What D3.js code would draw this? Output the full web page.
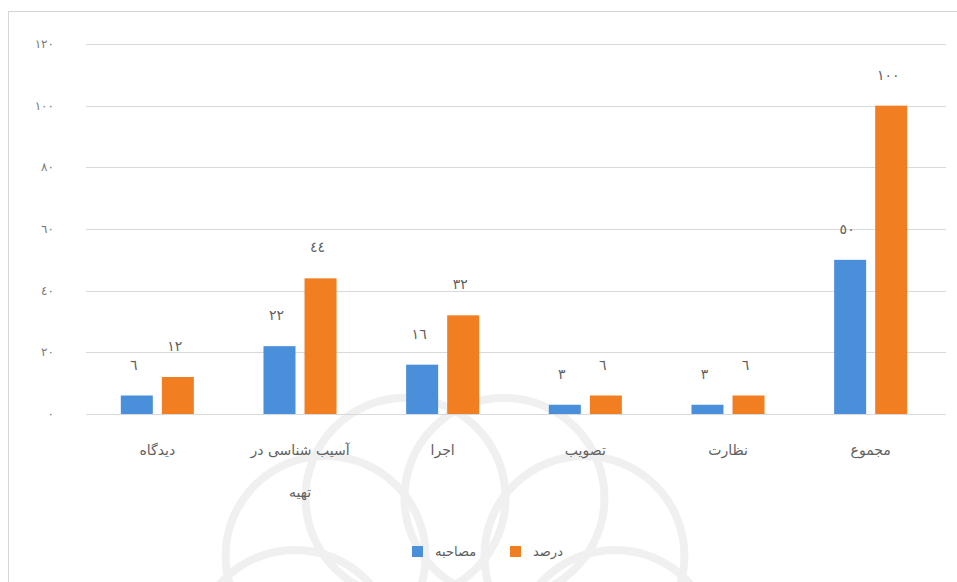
<!DOCTYPE html>
<html><head><meta charset="utf-8">
<script src="https://cdn.jsdelivr.net/npm/d3@7/dist/d3.min.js"></script>
<style>html,body{margin:0;padding:0;background:#fff;overflow:hidden}</style>
</head><body><svg id="c" width="957" height="582"></svg>
<script>
const categories = ["دیدگاه", "آسیب شناسی در تهیه", "اجرا", "تصویب", "نظارت", "مجموع"];
const seriesNames = ["مصاحبه", "درصد"];
const interviewValues = [6, 22, 16, 3, 3, 50];
const percentValues = [12, 44, 32, 6, 6, 100];
const tickValues = [0, 20, 40, 60, 80, 100, 120];
const colors = ["#4a8fd9", "#f27e22"];

const toFa = n => String(n).replace(/\d/g, d => "٠١٢٣٤٥٦٧٨٩"[d]);
const font = "'DejaVu Sans', sans-serif";
const textColor = "#606060";

const svg = d3.select("#c");

// faint watermark rosette
const wm = svg.append("g").attr("fill", "none").attr("stroke", "#f0f0f0").attr("stroke-width", 8);
const cx = 455, cy = 650;
for (let i = 0; i < 10; i++) {
  const a = i * Math.PI * 2 / 10;
  wm.append("circle").attr("cx", cx + Math.cos(a) * 160).attr("cy", cy + Math.sin(a) * 160).attr("r", 100);
}

// frame
svg.append("rect").attr("x", 8.5).attr("y", 11.5).attr("width", 970).attr("height", 600)
  .attr("fill", "none").attr("stroke", "#d6d6d6");

const plot = {left: 86, right: 942, top: 44, bottom: 414};
const y = d3.scaleLinear().domain([0, 120]).range([plot.bottom, plot.top]);
const x0 = d3.scaleBand().domain(categories).range([plot.left, plot.right]).paddingInner(0.488).paddingOuter(0.244);
const x1 = d3.scaleBand().domain(seriesNames).range([0, x0.bandwidth()]).paddingInner(0.22);

// gridlines
svg.append("g").selectAll("line").data(tickValues).join("line")
  .attr("x1", plot.left).attr("x2", plot.right + 4)
  .attr("y1", d => Math.round(y(d)) + 0.5).attr("y2", d => Math.round(y(d)) + 0.5)
  .attr("stroke", "#d9d9d9").attr("stroke-width", 1.2);

// y tick labels
svg.append("g").selectAll("text").data(tickValues).join("text")
  .attr("x", 54).attr("y", d => y(d) + 4)
  .attr("text-anchor", "end").attr("font-family", font).attr("font-size", 12)
  .attr("fill", "#7a7a7a").text(d => toFa(d));

const data = categories.map((c, i) => ({cat: c, vals: [interviewValues[i], percentValues[i]]}));

const groups = svg.append("g").selectAll("g").data(data).join("g")
  .attr("transform", d => `translate(${x0(d.cat)},0)`);

groups.selectAll("rect").data(d => d.vals.map((v, j) => ({v, s: seriesNames[j], j}))).join("rect")
  .attr("x", d => x1(d.s)).attr("width", x1.bandwidth())
  .attr("y", d => y(d.v)).attr("height", d => y(0) - y(d.v))
  .attr("fill", d => colors[d.j]);

groups.selectAll("text.lbl").data(d => d.vals.map((v, j) => ({v, s: seriesNames[j], j}))).join("text")
  .attr("class", "lbl")
  .attr("x", d => x1(d.s) + x1.bandwidth() / 2 - 3)
  .attr("y", d => y(d.v) - 26)
  .attr("text-anchor", "middle").attr("font-family", font).attr("font-size", 14)
  .attr("fill", textColor).text(d => toFa(d.v));

// category labels with word wrap
const catG = svg.append("g");
data.forEach(d => {
  const cxl = x0(d.cat) + x0.bandwidth() / 2;
  const words = d.cat.split(" ");
  const lines = [];
  let cur = [];
  words.forEach(w => {
    const test = cur.concat([w]).join(" ");
    if (cur.length && test.length > 14) { lines.push(cur.join(" ")); cur = [w]; }
    else cur.push(w);
  });
  if (cur.length) lines.push(cur.join(" "));
  lines.forEach((ln, k) => {
    catG.append("text").attr("x", cxl).attr("y", 455 + k * 42)
      .attr("text-anchor", "middle").attr("font-family", font).attr("font-size", 14)
      .attr("fill", textColor).text(ln);
  });
});

// legend
const legendX = [412, 510];
const lg = svg.append("g");
seriesNames.forEach((s, i) => {
  lg.append("rect").attr("x", legendX[i]).attr("y", 546).attr("width", 11).attr("height", 11).attr("fill", colors[i]);
  lg.append("text").attr("x", legendX[i] + 23).attr("y", 556)
    .attr("text-anchor", "start").attr("font-family", font).attr("font-size", 13)
    .attr("fill", textColor).text(s);
});
</script>
</body></html>
